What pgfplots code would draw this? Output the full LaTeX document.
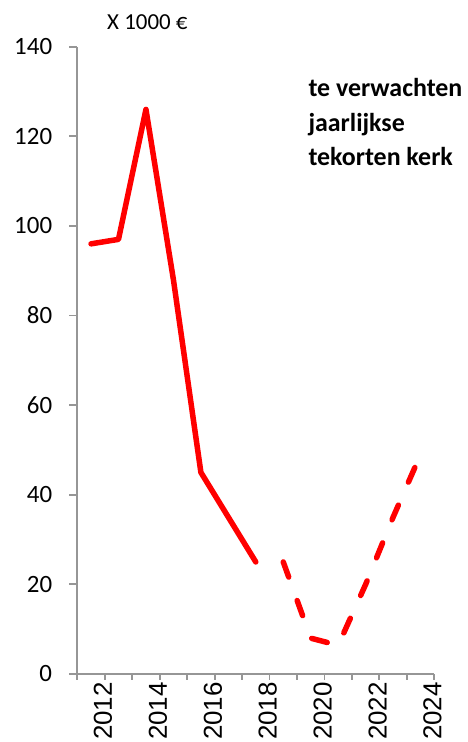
\documentclass[border=0pt]{standalone}
\usepackage{pgfplots}
\pgfplotsset{compat=1.18}
\usepackage{fontspec}
\setmainfont{Carlito}
\newfontfamily\arialfont{Liberation Sans}
\definecolor{axgray}{RGB}{150,150,150}
\begin{document}
\begin{tikzpicture}[x=1bp,y=1bp]
\begin{axis}[
  at={(77.3bp,68bp)}, anchor=south west,
  scale only axis, width=357bp, height=627.3bp,
  xmin=2011.5, xmax=2024.5, ymin=0, ymax=140,
  clip=false,
  axis lines*=left,
  axis line style={axgray, line width=1.8bp},
  ytick={0,20,...,140},
  xtick={2012,2014,2016,2018,2020,2022,2024},
  xticklabels={2012,2014,2016,2018,2020,2022,2024},
  minor xtick={2011.5,2012.5,2013.5,2014.5,2015.5,2016.5,2017.5,2018.5,2019.5,2020.5,2021.5,2022.5,2023.5,2024.5},
  major x tick style={draw=none},
  tick align=outside,
  major tick length=8bp, minor tick length=6bp,
  every tick/.style={axgray, line width=1.8bp},
  /pgf/number format/assume math mode=true,
  yticklabel style={font=\fontsize{25}{25}\selectfont, anchor=east, inner sep=0pt, xshift=-17bp},
  xticklabel style={font=\arialfont\fontsize{26}{26}\selectfont, rotate=90, anchor=east, inner sep=0pt, yshift=-12bp},
]
\addplot[red, line width=5.5bp, line cap=round, line join=round] coordinates {
  (2012,96) (2013,97) (2014,126) (2015,88) (2016,45) (2017,35) (2018,25)
};
\addplot[red, line width=5.5bp, line cap=round, line join=round, dash pattern=on 16bp off 25bp] coordinates {
  (2019,25) (2020,8) (2021,6.4) (2022,20) (2023,35) (2024,49)
};
\end{axis}
\node[anchor=base west, font=\fontsize{23}{23}\selectfont, inner sep=0pt] at (107,712.7) {X 1000 €};
\node[anchor=base west, font=\bfseries\fontsize{26}{26}\selectfont, inner sep=0pt] at (308.3,645.3) {te verwachten};
\node[anchor=base west, font=\bfseries\fontsize{26}{26}\selectfont, inner sep=0pt] at (308.3,610.8) {jaarlijkse};
\node[anchor=base west, font=\bfseries\fontsize{26}{26}\selectfont, inner sep=0pt] at (308.3,576) {tekorten kerk};
\pgfresetboundingbox
\path (0,0) rectangle (468,742);
\end{tikzpicture}
\end{document}
